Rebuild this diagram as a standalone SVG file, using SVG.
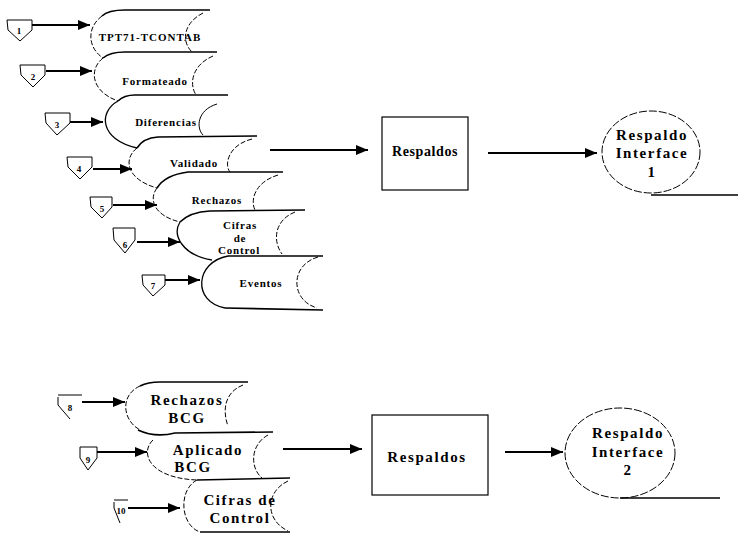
<svg xmlns="http://www.w3.org/2000/svg" width="738" height="535" viewBox="0 0 738 535">
<defs>
<marker id="ah" viewBox="0 0 12 10" refX="12" refY="5" markerWidth="12" markerHeight="10" markerUnits="userSpaceOnUse" orient="auto">
<path d="M0,0 L12,5 L0,10 Z" fill="#000"/>
</marker>
<style>
.ln{fill:none;stroke:#000;stroke-width:1.6}
.arc{fill:none;stroke:#000;stroke-width:1}
.dsh{fill:none;stroke:#000;stroke-width:1;stroke-dasharray:5 2}
.arw{fill:none;stroke:#000;stroke-width:2;marker-end:url(#ah)}
.box{fill:none;stroke:#000;stroke-width:1}
.t{font-family:"Liberation Serif","Times New Roman",serif;font-weight:bold;fill:#000;text-anchor:middle}
.s{font-size:11px;letter-spacing:0.8px}
.n{font-size:9px}
.m{font-size:15px;letter-spacing:1.6px}
.b{font-size:15px;letter-spacing:1.6px}
</style>
</defs>
<rect width="738" height="535" fill="#fff"/>

<g id="connectors">
<path class="arw" d="M32,25 L90,25"/>
<path class="arw" d="M46,71 L92,71"/>
<path class="arw" d="M70,122 L103,122"/>
<path class="arw" d="M93,169 L132,169"/>
<path class="arw" d="M113,205 L157,205"/>
<path class="arw" d="M137,242 L180,242"/>
<path class="arw" d="M165,280 L200,280"/>
<path class="arw" d="M270,150 L368,150"/>
<path class="arw" d="M488,153 L597,153"/>
<path class="arw" d="M82,402 L125,402"/>
<path class="arw" d="M97,452 L147,452"/>
<path class="arw" d="M128,508 L180,508"/>
<path class="arw" d="M283,449 L362,449"/>
<path class="arw" d="M505,452 L563,452"/>
</g>

<g id="c1"><path class="box" d="M7,20 L32,20 L32,30 L20,41 L8,30 Z"/><text class="t n" x="19" y="34">1</text></g>
<g id="c2"><path class="box" d="M20,65 L45,65 L45,75 L33,87 L21,75 Z"/><text class="t n" x="33" y="80">2</text></g>
<g id="c3"><path class="box" d="M45,113 L70,113 L70,123 L57,135 L46,123 Z"/><text class="t n" x="57" y="128">3</text></g>
<g id="c4"><path class="box" d="M67,157 L92,157 L92,167 L80,179 L68,167 Z"/><text class="t n" x="79" y="172">4</text></g>
<g id="c5"><path class="box" d="M90,197 L112,197 L112,207 L102,218 L91,207 Z"/><text class="t n" x="102" y="212">5</text></g>
<g id="c6"><path class="box" d="M113,228 L135,228 L135,240 L125,253 L114,240 Z"/><text class="t n" x="125" y="248">6</text></g>
<g id="c7"><path class="box" d="M142,275 L165,275 L165,285 L153,296 L143,285 Z"/><text class="t n" x="153" y="289">7</text></g>
<g id="c8"><path class="box" d="M58,395 L82,395 M58,397 L58,405 L70,419"/><text class="t n" x="70" y="411">8</text></g>
<g id="c9"><path class="box" d="M80,447 L97,447 L97,458 L88,470 L80,458 Z"/><text class="t n" x="88" y="463">9</text></g>
<g id="c10"><path class="box" d="M114,500 L128,500 M114,502 L114,508 L120,523"/><text class="t n" x="121" y="514">10</text></g>

<g id="s1">
<path class="ln" d="M102,16 Q108,10 125,10 L210,10"/>
<path class="dsh" d="M102,16 C86,28 88,48 103,58"/>
<path class="dsh" d="M203,13 C185,22 180,40 192,52"/>
<text class="t s" x="150" y="41" style="letter-spacing:1px">TPT71-TCONTAB</text>
</g>
<g id="s2">
<path class="ln" d="M103,58 Q110,52 125,52 L217,52"/>
<path class="dsh" d="M103,58 C88,70 92,92 118,101"/>
<path class="dsh" d="M213,56 C194,64 188,82 196,95"/>
<text class="t s" x="155" y="85">Formateado</text>
</g>
<g id="s3">
<path class="ln" d="M118,101 Q124,95 135,95 L228,95"/>
<path class="arc" d="M118,101 C98,112 100,140 137,148" style="stroke-width:1.3"/>
<path class="arc" d="M217,104 C197,110 196,128 203,135"/>
<text class="t s" x="166" y="126">Diferencias</text>
</g>
<g id="s4">
<path class="ln" d="M137,148 Q143,138 158,137 L257,136"/>
<path class="dsh" d="M137,148 C122,160 128,180 157,188"/>
<path class="dsh" d="M252,139 C228,145 224,165 230,172"/>
<text class="t s" x="194" y="167">Validado</text>
</g>
<g id="s5">
<path class="ln" d="M157,188 Q165,175 188,172 L283,172"/>
<path class="dsh" d="M157,188 C148,200 155,216 180,222"/>
<path class="dsh" d="M278,175 C255,182 250,200 255,210"/>
<text class="t s" x="217" y="204">Rechazos</text>
</g>
<g id="s6">
<path class="ln" d="M180,222 Q190,212 210,211 L305,210"/>
<path class="arc" d="M180,222 C172,235 182,255 212,260" style="stroke-width:1.3"/>
<path class="dsh" d="M295,212 C275,220 272,240 282,254"/>
<text class="t s" x="240" y="229">Cifras</text>
<text class="t s" x="240" y="242">de</text>
<text class="t s" x="239" y="254">Control</text>
</g>
<g id="s7">
<path class="ln" d="M228,256 L323,256"/>
<path class="arc" d="M228,256 C195,262 192,302 225,308" style="stroke-width:1.3"/>
<path class="ln" d="M225,308 L323,310"/>
<path class="dsh" d="M318,257 C290,265 290,300 317,308"/>
<text class="t s" x="261" y="287">Eventos</text>
</g>

<g id="r1">
<rect x="382" y="117" width="86" height="73" fill="none" stroke="#000" stroke-width="1.2"/>
<text class="t" x="425" y="156" style="font-size:14px;letter-spacing:0.6px">Respaldos</text>
</g>
<g id="i1">
<ellipse cx="651" cy="152" rx="49" ry="41" fill="none" stroke="#000" stroke-width="1" stroke-dasharray="8 2"/>
<path class="ln" d="M651,195 L738,195"/>
<text class="t m" x="652" y="140">Respaldo</text>
<text class="t m" x="652" y="158">Interface</text>
<text class="t m" x="652" y="177">1</text>
</g>

<g id="b1">
<path class="ln" d="M140,386 Q148,382 160,382 L248,382"/>
<path class="dsh" d="M140,386 C120,395 122,420 140,430"/>
<path class="dsh" d="M243,385 C225,392 222,410 228,426"/>
<text class="t b" x="187" y="405">Rechazos</text>
<text class="t b" x="187" y="423">BCG</text>
</g>
<g id="b2">
<path class="ln" d="M138,430 Q155,438 175,433 L273,432"/>
<path class="dsh" d="M153,440 C140,452 148,478 197,480"/>
<path class="dsh" d="M268,435 C250,445 250,468 262,478"/>
<text class="t b" x="208" y="455">Aplicado</text>
<text class="t b" x="193" y="472">BCG</text>
</g>
<g id="b3">
<path class="ln" d="M197,480 L290,478"/>
<path class="dsh" d="M197,480 C178,490 180,525 200,532"/>
<path class="ln" d="M200,532 L290,532"/>
<path class="dsh" d="M288,481 C265,492 265,520 288,531"/>
<text class="t b" x="240" y="505">Cifras de</text>
<text class="t b" x="240" y="523">Control</text>
</g>

<g id="r2">
<rect x="372" y="415" width="116" height="80" fill="none" stroke="#000" stroke-width="1.2"/>
<text class="t" x="427" y="462" style="font-size:15px;letter-spacing:1.6px">Respaldos</text>
</g>
<g id="i2">
<ellipse cx="620" cy="453" rx="55" ry="45" fill="none" stroke="#000" stroke-width="1" stroke-dasharray="8 2"/>
<path class="ln" d="M620,498 L720,498"/>
<text class="t m" x="628" y="438">Respaldo</text>
<text class="t m" x="628" y="457">Interface</text>
<text class="t m" x="628" y="475">2</text>
</g>
</svg>
